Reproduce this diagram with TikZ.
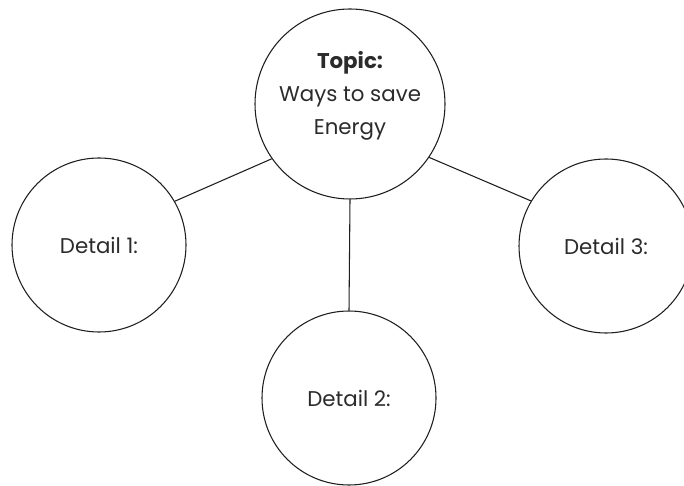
\documentclass[tikz,border=0pt]{standalone}
\usepackage{fontspec}
\setmainfont{Poppins}
\usepackage{tikz}
\usetikzlibrary{positioning}
\definecolor{ink}{HTML}{2B2B2B}
\definecolor{rim}{HTML}{1E1E1E}

\begin{document}
\begin{tikzpicture}[x=0.75pt, y=0.75pt, font=\fontsize{16}{24.5}\selectfont,
    bubble/.style={circle, draw=rim, line width=0.8pt, inner sep=0pt,
          text=ink, align=center, minimum size=130.5pt},
    link/.style={draw=rim, line width=0.8pt}]
    \useasboundingbox (0,0) rectangle (684,485);
    \node[bubble, minimum size=142.5pt] (topic) at (350,381) {};
    \node[text=ink, align=center, font=\fontsize{16}{24.5}\selectfont] (topictext) at (350,389)
      {\textbf{Topic:}\\Ways to save\\Energy};
    \node[bubble] (one) at (99,240) {Detail 1:};
    \node[bubble] (two) at (349,87) {Detail 2:};
    \node[bubble] (three) at (606,239) {Detail 3:};
    \draw[link] (topic.215) -- (one.30);
    \draw[link] (topic.south) -- (two.north);
    \draw[link] (topic.326) -- (three.149);
  \end{tikzpicture}
\end{document}
